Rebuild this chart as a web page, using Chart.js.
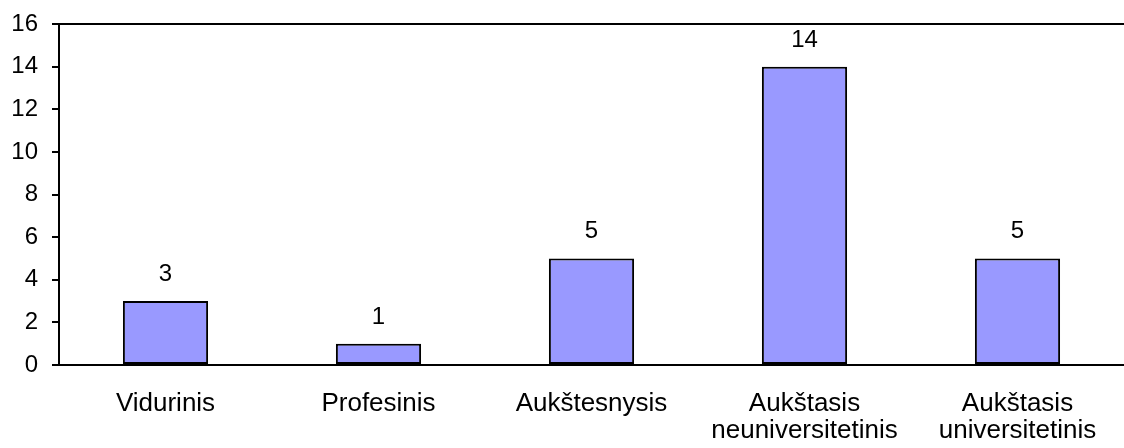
<!DOCTYPE html>
<html>
<head>
<meta charset="utf-8">
<script src="https://cdn.jsdelivr.net/npm/chart.js@4"></script>
<style>
  body { margin: 0; background: #fff; }
  #wrap { width: 1124px; height: 448px; position: relative; }
</style>
</head>
<body>
<div id="wrap"><canvas id="chart"></canvas></div>
<script>
const categories = ['Vidurinis', 'Profesinis', 'Aukštesnysis', ['Aukštasis', 'neuniversitetinis'], ['Aukštasis', 'universitetinis']];
const counts = [3, 1, 5, 14, 5];
const yTicks = [0, 2, 4, 6, 8, 10, 12, 14, 16];

const FONT = '"Liberation Sans", Arial, sans-serif';

// value labels above each bar
const valueLabels = {
  id: 'valueLabels',
  afterDatasetsDraw(chart) {
    const ctx = chart.ctx;
    const meta = chart.getDatasetMeta(0);
    ctx.save();
    ctx.font = '24px ' + FONT;
    ctx.fillStyle = '#000';
    ctx.textAlign = 'center';
    ctx.textBaseline = 'alphabetic';
    meta.data.forEach((bar, i) => {
      ctx.fillText(String(counts[i]), bar.x, bar.y - 20);
    });
    ctx.restore();
  }
};

const ctx = document.getElementById('chart').getContext('2d');
new Chart(ctx, {
  type: 'bar',
  data: {
    labels: categories,
    datasets: [{
      data: counts,
      backgroundColor: '#9999FF',
      borderColor: '#000',
      borderWidth: 2,
      borderSkipped: false,
      categoryPercentage: 1,
      barPercentage: 0.4
    }]
  },
  options: {
    responsive: true,
    maintainAspectRatio: false,
    animation: false,
    layout: { padding: { top: 24, right: 0, bottom: 0, left: 0 } },
    plugins: {
      legend: { display: false },
      tooltip: { enabled: false }
    },
    scales: {
      x: {
        grid: { display: false, drawTicks: false },
        border: { color: '#000', width: 2 },
        ticks: {
          color: '#000',
          font: { family: FONT, size: 26, lineHeight: 1.05 },
          padding: 25,
          maxRotation: 0,
          autoSkip: false
        },
        afterFit(scale) { scale.height = 83; scale.paddingLeft = 0; scale.paddingRight = 0; }
      },
      y: {
        min: 0,
        max: 16,
        afterBuildTicks(scale) { scale.ticks = yTicks.map(v => ({ value: v })); },
        grid: {
          color: c => (c.tick && c.tick.value === 16 ? '#000' : 'rgba(0,0,0,0)'),
          tickColor: '#000',
          lineWidth: 2,
          tickLength: 7
        },
        border: { color: '#000', width: 2 },
        ticks: {
          color: '#000',
          font: { family: FONT, size: 24 },
          padding: 14
        },
        afterFit(scale) { scale.width = 59; scale.paddingTop = 0; scale.paddingBottom = 0; }
      }
    }
  },
  plugins: [valueLabels]
});
</script>
</body>
</html>
